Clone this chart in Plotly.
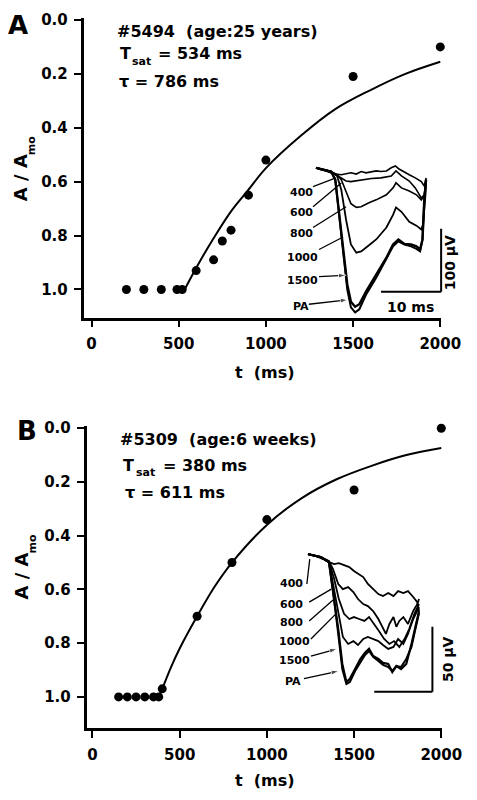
import plotly.graph_objects as go

# ---------------- data ----------------
# Panel A (#5494, age 25 years)
a_t = [200, 300, 400, 490, 520, 600, 700, 750, 800, 900, 1000, 1500, 2000]
a_ratio = [1.0, 1.0, 1.0, 1.0, 1.0, 0.93, 0.89, 0.82, 0.78, 0.65, 0.52, 0.21, 0.10]
a_fit_t = [534, 600, 700, 800, 900, 1000, 1200, 1400, 1600, 1800, 2000]
a_fit_ratio = [1.0, 0.92, 0.81, 0.71, 0.63, 0.55, 0.43, 0.33, 0.26, 0.20, 0.155]

# Panel B (#5309, age 6 weeks)
b_t = [150, 200, 250, 300, 350, 380, 400, 600, 800, 1000, 1500, 2000]
b_ratio = [1.0, 1.0, 1.0, 1.0, 1.0, 1.0, 0.97, 0.70, 0.50, 0.34, 0.23, 0.0]
b_fit_t = [380, 400, 450, 500, 600, 700, 800, 1000, 1200, 1400, 1600, 1800, 2000]
b_fit_ratio = [1.0, 0.97, 0.89, 0.82, 0.70, 0.59, 0.50, 0.36, 0.26, 0.19, 0.14, 0.10, 0.074]

y_ticks = [0.0, 0.2, 0.4, 0.6, 0.8, 1.0]
x_ticks = [0, 500, 1000, 1500, 2000]

# Inset traces: labels (interstimulus interval, ms) and (time ms, voltage µV)
trace_labels = ["400", "600", "800", "1000", "1500", "PA"]

ia_400_ms = [0, 0.8, 1.7, 2.5, 3.3, 4.2, 5, 5.8, 6.7, 7.5, 8.3, 9.2, 10, 10.8, 11.7, 12.5, 13.2, 13.8, 14.5, 15.5, 16.5, 17.5, 18, 18.3]
ia_400_uv = [0, -3, -5, -8, -10, -11, -10, -8, -10, -6, -8, -6, -5, -6, -5, 0, 3, -2, -6, -11, -16, -22, -29, -16]
ia_600_ms = [0, 1.7, 3.3, 4.2, 5, 5.8, 7.5, 9.2, 10.8, 12.5, 13.3, 14.2, 15.5, 16.5, 17.5, 18, 18.3]
ia_600_uv = [0, -5, -11, -16, -21, -22, -19, -17, -16, -13, -5, -13, -21, -32, -48, -43, -19]
ia_800_ms = [0, 2.5, 3.5, 4.2, 5, 5.8, 6.7, 7.5, 8.7, 10, 11.7, 12.8, 13.3, 14.2, 15.5, 16.7, 17.5, 18, 18.3]
ia_800_uv = [0, -6, -11, -19, -38, -57, -63, -62, -56, -51, -43, -32, -24, -32, -37, -43, -51, -44, -19]
ia_1000_ms = [0, 2.5, 3.5, 4.2, 5, 5.8, 6.7, 7.5, 8.7, 10, 11.7, 12.8, 13.3, 14.2, 15.5, 16.7, 17.5, 17.8, 18.2, 18.3]
ia_1000_uv = [0, -6, -13, -35, -83, -122, -135, -133, -124, -114, -95, -75, -63, -70, -86, -92, -98, -90, -43, -19]
ia_1500_ms = [0, 2.5, 3.2, 3.8, 4.5, 5.2, 5.8, 6.5, 7.2, 8.3, 10, 11.7, 12.8, 13.7, 14.7, 15.8, 16.7, 17.3, 17.7, 18, 18.3]
ia_1500_uv = [0, -6, -19, -67, -130, -186, -213, -221, -217, -197, -170, -143, -122, -114, -121, -122, -125, -130, -114, -51, -19]
ia_pa_ms = [0, 2.5, 3.2, 3.8, 4.5, 5.2, 5.8, 6.5, 7.2, 8.3, 10, 11.7, 12.8, 13.7, 14.7, 15.8, 16.7, 17.3, 17.7, 18, 18.3]
ia_pa_uv = [0, -6, -19, -70, -138, -194, -222, -230, -225, -202, -175, -146, -125, -117, -122, -125, -129, -133, -114, -51, -19]

ib_400_ms = [0, 1.4, 2.6, 3.6, 4.5, 5.3, 6.2, 7.1, 7.9, 8.8, 9.5, 10.3, 11.2, 12.1, 12.9, 13.8, 14.7, 15.5, 16.4, 17.2, 18.1, 18.8, 19.1]
ib_400_uv = [0, -1.5, -3.8, -6.2, -7.7, -6.9, -8.5, -10, -13, -15.4, -17.7, -23, -27, -30.8, -32.3, -30, -32.3, -28.5, -30, -28.5, -33, -37, -43.8]
ib_600_ms = [0, 2.2, 3.6, 4.3, 5.2, 6.0, 6.9, 7.8, 8.6, 9.5, 10.3, 11.2, 12.1, 12.9, 13.4, 14.0, 14.7, 15.2, 15.7, 16.4, 17.2, 18.1, 18.8, 19.1]
ib_600_uv = [0, -2.3, -5.4, -11.5, -23, -27, -25.4, -29.2, -34.6, -38.5, -40, -43.8, -50, -57.7, -61.5, -53.8, -48.5, -56, -51.5, -48.5, -53.8, -43.8, -38.5, -34.6]
ib_800_ms = [0, 2.2, 3.6, 4.5, 5.3, 6.2, 7.1, 7.9, 8.8, 9.7, 10.5, 11.4, 12.2, 13.1, 14.0, 14.8, 15.7, 16.6, 17.4, 18.3, 19.1]
ib_800_uv = [0, -2.3, -5.4, -19.2, -34.6, -46, -50, -48.5, -50, -51.5, -48.5, -53.8, -59.2, -65.4, -69.2, -67, -71.5, -65.4, -57.7, -46, -38.5]
ib_1000_ms = [0, 2.2, 3.6, 4.3, 5.2, 6.0, 6.9, 7.8, 8.6, 9.5, 10.3, 11.2, 12.1, 12.9, 13.8, 14.7, 15.5, 16.4, 17.2, 18.1, 19.1]
ib_1000_uv = [0, -2.3, -6.2, -23, -46, -63.8, -69.2, -67, -70, -65.4, -63.8, -65.4, -67, -70, -73, -71.5, -65.4, -69.2, -61.5, -50, -40.8]
ib_1500_ms = [0, 2.2, 3.6, 4.3, 5.2, 5.9, 6.6, 7.2, 8.1, 9.0, 9.8, 10.5, 11.2, 12.1, 12.9, 13.8, 14.5, 15.2, 16.0, 16.9, 17.8, 18.4, 19.1]
ib_1500_uv = [0, -2.3, -6.2, -27, -57.7, -84.6, -98.5, -96, -88.5, -80.8, -76, -73, -78.5, -80.8, -83.8, -84.6, -90.8, -86.2, -88.5, -84.6, -69.2, -57.7, -43.8]
ib_pa_ms = [0, 2.2, 3.6, 4.3, 5.2, 5.9, 6.6, 7.2, 8.1, 9.0, 9.8, 10.5, 11.2, 12.1, 12.9, 13.8, 14.5, 15.2, 16.0, 16.9, 17.8, 18.4, 19.1]
ib_pa_uv = [0, -2.3, -6.2, -28.5, -61.5, -88.5, -100, -98.5, -90, -83, -77.7, -74.6, -79.2, -82.3, -85.4, -87, -90, -86.2, -87, -80.8, -71.5, -59.2, -45.4]

# ---------------- layout helpers ----------------
# map target picture pixels to paper fractions (empirical page->picture transform)
SX, SY, CY = 0.957, 0.993, 7.0
BODY = 8
PW, PH = 490, 800


def fx(p):
    return (p / SX - BODY) / PW


def fy(p):
    return 1 - ((p - CY) / SY - BODY) / PH


FONT = "DejaVu Sans"
BLACK = "#000000"

fig = go.Figure()

# main panels
fig.add_trace(go.Scatter(x=a_fit_t, y=a_fit_ratio, mode="lines", line=dict(color=BLACK, width=2, shape="spline"),
                         xaxis="x", yaxis="y", showlegend=False, cliponaxis=False, hoverinfo="skip"))
fig.add_trace(go.Scatter(x=a_t, y=a_ratio, mode="markers", marker=dict(color=BLACK, size=9),
                         xaxis="x", yaxis="y", showlegend=False, cliponaxis=False))
fig.add_trace(go.Scatter(x=b_fit_t, y=b_fit_ratio, mode="lines", line=dict(color=BLACK, width=2, shape="spline"),
                         xaxis="x2", yaxis="y2", showlegend=False, cliponaxis=False, hoverinfo="skip"))
fig.add_trace(go.Scatter(x=b_t, y=b_ratio, mode="markers", marker=dict(color=BLACK, size=9),
                         xaxis="x2", yaxis="y2", showlegend=False, cliponaxis=False))

# inset traces
ia = [(ia_400_ms, ia_400_uv, 1.6), (ia_600_ms, ia_600_uv, 1.6), (ia_800_ms, ia_800_uv, 1.6),
      (ia_1000_ms, ia_1000_uv, 1.8), (ia_1500_ms, ia_1500_uv, 2.4), (ia_pa_ms, ia_pa_uv, 2.0)]
for xs, ys, w in ia:
    fig.add_trace(go.Scatter(x=xs, y=ys, mode="lines", line=dict(color=BLACK, width=w),
                             xaxis="x3", yaxis="y3", showlegend=False, cliponaxis=False))
ib = [(ib_400_ms, ib_400_uv, 1.8), (ib_600_ms, ib_600_uv, 1.8), (ib_800_ms, ib_800_uv, 1.8),
      (ib_1000_ms, ib_1000_uv, 1.8), (ib_1500_ms, ib_1500_uv, 2.2), (ib_pa_ms, ib_pa_uv, 2.0)]
for xs, ys, w in ib:
    fig.add_trace(go.Scatter(x=xs, y=ys, mode="lines", line=dict(color=BLACK, width=w),
                             xaxis="x4", yaxis="y4", showlegend=False, cliponaxis=False))

# leader lines from labels to traces (tail -> head), arrowhead for 1500 and PA
ia_leaders = [((-0.5, -30), (3.3, -16), False), ((-0.5, -62), (4.2, -24), False), ((-0.5, -95), (5, -62), False),
              ((0.5, -130), (4.5, -110), False), ((0.5, -173), (5, -171), True), ((-1.2, -217), (5.3, -210), True)]
ib_leaders = [((-0.2, -23), (0.3, -3.8), False), ((0.2, -37), (4.0, -27), False), ((0.2, -51.5), (4.5, -34.6), False),
              ((0.5, -65.4), (4.8, -46), False), ((0.5, -78.5), (5.0, -73), True), ((-0.7, -96), (5.3, -90), True)]
for leaders, xa, ya in [(ia_leaders, "x3", "y3"), (ib_leaders, "x4", "y4")]:
    for tail, head, arrow in leaders:
        fig.add_trace(go.Scatter(
            x=[tail[0], head[0]], y=[tail[1], head[1]], mode="lines+markers",
            line=dict(color=BLACK, width=1.3),
            marker=dict(symbol="arrow", size=[0, 8 if arrow else 0], angleref="previous", color=BLACK),
            xaxis=xa, yaxis=ya, showlegend=False, cliponaxis=False, hoverinfo="skip"))

tickfont = dict(family=FONT, size=15, color=BLACK, weight="bold")
common_x = dict(tickvals=x_ticks, ticks="outside", ticklen=7, tickwidth=2, tickcolor=BLACK,
                showline=True, linewidth=2.5, linecolor=BLACK, showgrid=False, zeroline=False,
                tickfont=tickfont, ticklabelstandoff=4)
common_y = dict(tickvals=y_ticks, ticktext=["%.1f" % v for v in y_ticks], ticks="outside", ticklen=7,
                tickwidth=2, tickcolor=BLACK, showline=True, linewidth=2.5, linecolor=BLACK,
                showgrid=False, zeroline=False, tickfont=tickfont, ticklabelstandoff=3)
hidden = dict(visible=False, showgrid=False, zeroline=False)

fig.update_layout(
    width=PW, height=PH, autosize=False,
    margin=dict(l=0, r=0, t=0, b=0),
    paper_bgcolor="white", plot_bgcolor="rgba(0,0,0,0)",
    xaxis=dict(domain=[fx(83), fx(440)], range=[-46, 2006], anchor="y", **common_x),
    yaxis=dict(domain=[fy(318), fy(18)], range=[1.104, -0.007], anchor="x", **common_y),
    xaxis2=dict(domain=[fx(86), fx(441)], range=[-34, 2006], anchor="y2", **common_x),
    yaxis2=dict(domain=[fy(729), fy(427)], range=[1.115, -0.007], anchor="x2", **common_y),
    xaxis3=dict(domain=[fx(300), fx(450)], range=[-2.5, 22.5], anchor="y3", **hidden),
    yaxis3=dict(domain=[fy(320), fy(160)], range=[-241.3, 12.7], anchor="x3", **hidden),
    xaxis4=dict(domain=[fx(290), fx(450)], range=[-2.93, 24.66], anchor="y4", **hidden),
    yaxis4=dict(domain=[fy(700), fy(548)], range=[-111.5, 5.4], anchor="x4", **hidden),
)

# scale bars
shapes = [
    dict(type="line", xref="x3", yref="y3", x0=10.8, x1=20.8, y0=-197, y1=-197, line=dict(color=BLACK, width=2)),
    dict(type="line", xref="x3", yref="y3", x0=20.8, x1=20.8, y0=-197, y1=-97, line=dict(color=BLACK, width=2)),
    dict(type="line", xref="x4", yref="y4", x0=11.4, x1=21.4, y0=-106, y1=-106, line=dict(color=BLACK, width=2)),
    dict(type="line", xref="x4", yref="y4", x0=21.4, x1=21.4, y0=-106, y1=-56, line=dict(color=BLACK, width=2)),
]
fig.update_layout(shapes=shapes)

ann = []


def text(x, y, s, size=16, xanchor="left", angle=0, **kw):
    ann.append(dict(x=fx(x), y=fy(y), xref="paper", yref="paper", text=s, showarrow=False,
                    xanchor=xanchor, yanchor="middle", textangle=angle,
                    font=dict(family=FONT, size=size, color=BLACK, weight="bold"), **kw))


# panel letters
text(18, 25, "A", size=26, xanchor="center", height=20, borderpad=0)
text(27, 432, "B", size=26, xanchor="center")
# info text (subscripts drawn as separate smaller texts)
text(114, 31, "#5494  (age:25 years)")
text(117, 54, "T")
text(129, 62, "sat", size=11)
text(155, 54, "= 534 ms")
text(116, 82, "τ = 786 ms")
text(117, 440, "#5309  (age:6 weeks)")
text(120, 466, "T")
text(133, 473, "sat", size=11)
text(160, 466, "= 380 ms")
text(122, 493, "τ = 611 ms")
# axis titles
text(20, 178, "A / A", size=18, xanchor="center", angle=-90)
text(31, 146, "mo", size=11, xanchor="center", angle=-90)
text(21, 577, "A / A", size=18, xanchor="center", angle=-90)
text(32, 545, "mo", size=11, xanchor="center", angle=-90)
text(264, 373, "t  (ms)", size=16, xanchor="center")
text(264, 782, "t  (ms)", size=16, xanchor="center")


def dlabel(xref, yref, x, y, s, size=11, angle=0):
    ann.append(dict(x=x, y=y, xref=xref, yref=yref, text=s, showarrow=False, xanchor="center", yanchor="middle",
                    textangle=angle, font=dict(family=FONT, size=size, color=BLACK, weight="bold")))


ia_label_pos = [(-2.5, -40), (-2.5, -71), (-2.5, -105), (-2.2, -143), (-2.2, -179), (-2.5, -221)]
ib_label_pos = [(-2.9, -23), (-2.9, -38.5), (-2.9, -52.3), (-2.4, -67.7), (-2.4, -82.3), (-2.6, -98.5)]
for lab, (x, y) in zip(trace_labels, ia_label_pos):
    dlabel("x3", "y3", x, y, lab)
for lab, (x, y) in zip(trace_labels, ib_label_pos):
    dlabel("x4", "y4", x, y, lab)

# scale bar labels
dlabel("x3", "y3", 15.7, -221, "10 ms", size=14)
dlabel("x3", "y3", 22.2, -151, "100 µV", size=14, angle=-90)
dlabel("x4", "y4", 15.9, -120.8, "10 ms", size=14)
dlabel("x4", "y4", 24.1, -80.8, "50 µV", size=14, angle=-90)

fig.update_layout(annotations=ann)
fig.write_html("out.html")
